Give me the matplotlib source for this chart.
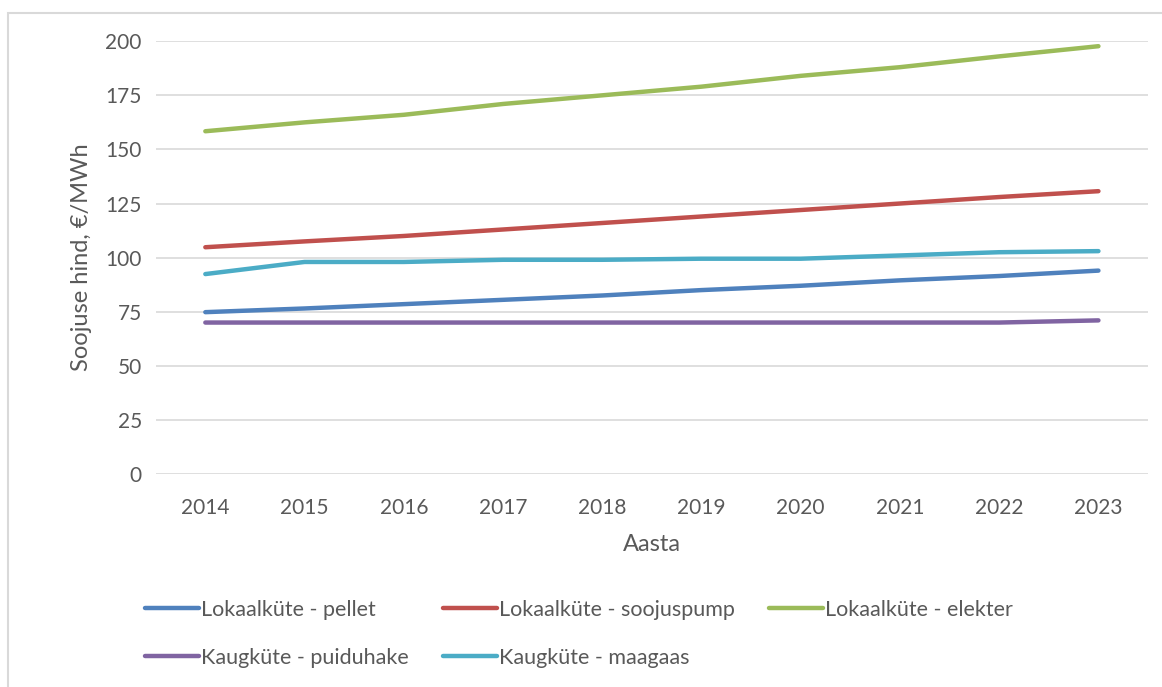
import matplotlib.pyplot as plt
from matplotlib.patches import Rectangle

plt.rcParams['font.family'] = ['Lato', 'DejaVu Sans']

# Andmed (loetud jooniselt)
aastad = [2014, 2015, 2016, 2017, 2018, 2019, 2020, 2021, 2022, 2023]
pellet = [74.8, 76.5, 78.5, 80.5, 82.5, 85.0, 87.0, 89.5, 91.5, 94.0]
soojuspump = [104.8, 107.5, 110.0, 113.0, 116.0, 119.0, 122.0, 125.0, 128.0, 130.7]
elekter = [158.4, 162.5, 166.0, 171.0, 175.0, 179.0, 184.0, 188.0, 193.0, 197.7]
puiduhake = [70.0, 70.0, 70.0, 70.0, 70.0, 70.0, 70.0, 70.0, 70.0, 71.0]
maagaas = [92.4, 98.0, 98.0, 99.0, 99.0, 99.5, 99.5, 101.0, 102.5, 103.0]

fig = plt.figure(figsize=(11.62, 6.87), dpi=100)
ax = fig.add_axes([0.134, 0.310, 0.854, 0.630])

# välimine raam
fig.patches.append(Rectangle((8 / 1162, -0.01), 1.1, 1 - 13 / 687 + 0.01,
                             transform=fig.transFigure, fill=False,
                             edgecolor='#d9d9d9', linewidth=1.5))

lw = 3.2
l1, = ax.plot(aastad, pellet, color='#4F81BD', lw=lw, label='Lokaalküte - pellet')
l2, = ax.plot(aastad, soojuspump, color='#C0504D', lw=lw, label='Lokaalküte - soojuspump')
l3, = ax.plot(aastad, elekter, color='#9BBB59', lw=lw, label='Lokaalküte - elekter')
l4, = ax.plot(aastad, puiduhake, color='#8064A2', lw=lw, label='Kaugküte - puiduhake')
l5, = ax.plot(aastad, maagaas, color='#4BACC6', lw=lw, label='Kaugküte - maagaas')
for l in (l1, l2, l3, l4, l5):
    l.set_solid_capstyle('round')

ax.set_xlim(2013.5, 2023.5)
ax.set_ylim(0, 200)
ax.set_yticks(range(0, 201, 25))
ax.set_xticks(aastad)
ax.grid(axis='y', color='#d9d9d9', linewidth=1.2)
ax.set_axisbelow(True)
for s in ax.spines.values():
    s.set_visible(False)
ax.tick_params(length=0, labelsize=15, labelcolor='#595959', pad=10)
ax.tick_params(axis='x', pad=17)

ax.set_xlabel('Aasta', fontsize=17, color='#595959', labelpad=12)
ax.set_ylabel('Soojuse hind, €/MWh', fontsize=17, color='#595959', labelpad=10)

leg = fig.legend([l1, l4, l2, l5, l3],
                 [l1.get_label(), l4.get_label(), l2.get_label(), l5.get_label(), l3.get_label()],
                 ncol=3, loc='upper left', bbox_to_anchor=(0.108, 0.155),
                 frameon=False, fontsize=15.5, handlelength=2.5, handletextpad=0.1,
                 columnspacing=1.6, labelspacing=1.3)
for t in leg.get_texts():
    t.set_color('#595959')

plt.savefig('out.png', dpi=100)
